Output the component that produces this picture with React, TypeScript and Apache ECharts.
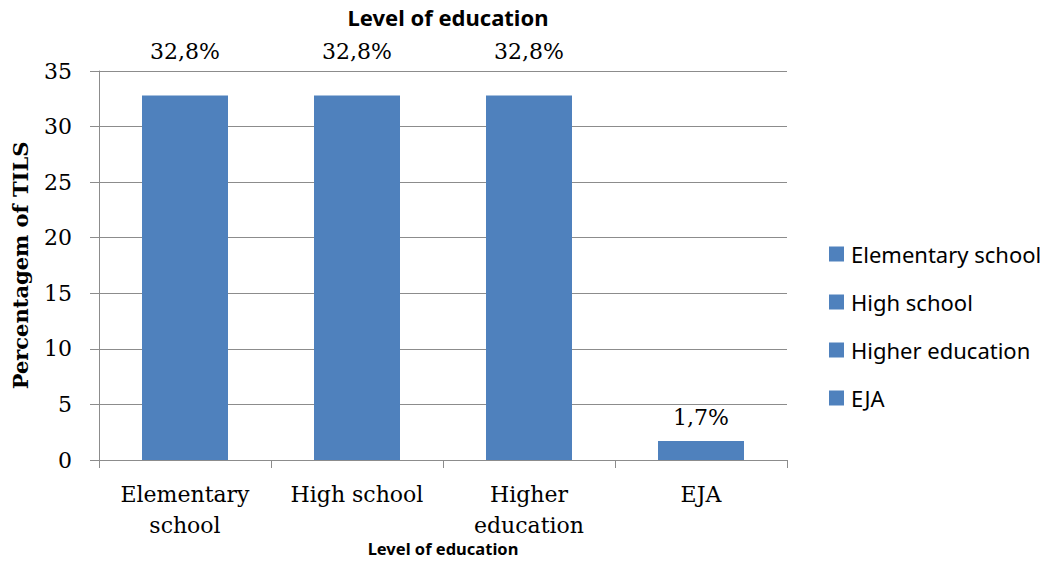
import React, { useEffect, useRef } from "react";
import * as echarts from "echarts";

const categories = ["Elementary school", "High school", "Higher education", "EJA"];
const axisLabels = ["Elementary\nschool", "High school", "Higher\neducation", "EJA"];
const values = [32.8, 32.8, 32.8, 1.7];
const yTicks = { min: 0, max: 35, interval: 5 };

const BAR_COLOR = "#4F81BD";
const GRID_COLOR = "#8C8C8C";
const SERIF = "'DejaVu Serif', serif";
const SANS = "'Noto Sans', sans-serif";

export default function App() {
  const ref = useRef<HTMLDivElement>(null);
  useEffect(() => {
    if (!ref.current) return;
    const chart = echarts.init(ref.current, null, { renderer: "svg" });
    const series = categories.map((name, i) => ({
      name,
      type: "bar",
      stack: "all",
      barWidth: "50%",
      itemStyle: { color: BAR_COLOR },
      data: categories.map((_, j) => (j === i ? values[i] : "-")),
      label: {
        show: true,
        position: "top",
        distance: values[i] > 30 ? 33 : 13,
        fontFamily: SERIF,
        fontSize: 22,
        color: "#000",
        formatter: (p: any) => String(p.value).replace(".", ",") + "%",
      },
    }));
    chart.setOption({
      animation: false,
      backgroundColor: "#fff",
      title: {
        text: "Level of education",
        left: 443,
        textAlign: "center",
        top: 1,
        textStyle: { fontFamily: SANS, fontWeight: "bold", fontSize: 22, color: "#000" },
      },
      legend: {
        orient: "vertical",
        left: 829,
        top: 243,
        padding: 0,
        itemWidth: 15,
        itemHeight: 15,
        itemGap: 26,
        icon: "rect",
        data: categories,
        textStyle: { fontFamily: SANS, fontSize: 22, color: "#000", lineHeight: 22, padding: [0, 0, 0, 2] },
      },
      grid: { left: 99, right: 267, top: 71, bottom: 115, containLabel: false },
      xAxis: {
        type: "category",
        data: axisLabels,
        name: "Level of education",
        nameLocation: "middle",
        nameGap: 80,
        nameMoveOverlap: false,
        nameTextStyle: { fontFamily: SANS, fontWeight: "bold", fontSize: 16.5, color: "#000" },
        axisLine: { lineStyle: { color: GRID_COLOR, width: 1 } },
        axisTick: { show: true, length: 8, interval: 0, lineStyle: { color: GRID_COLOR } },
        axisLabel: {
          interval: 0,
          margin: 19,
          fontFamily: SERIF,
          fontSize: 22,
          lineHeight: 31,
          color: "#000",
        },
      },
      yAxis: {
        type: "value",
        min: yTicks.min,
        max: yTicks.max,
        interval: yTicks.interval,
        name: "Percentagem of TILS",
        nameLocation: "middle",
        nameGap: 68,
        nameMoveOverlap: false,
        nameTextStyle: { fontFamily: SERIF, fontWeight: "bold", fontSize: 21, color: "#000" },
        axisLine: { show: true, lineStyle: { color: GRID_COLOR, width: 1 } },
        axisTick: { show: true, length: 9, lineStyle: { color: GRID_COLOR } },
        axisLabel: { margin: 27, fontFamily: SERIF, fontSize: 22, color: "#000" },
        splitLine: { show: true, lineStyle: { color: GRID_COLOR, width: 1 } },
      },
      series,
    });
    return () => chart.dispose();
  }, []);
  return <div ref={ref} style={{ width: 1054, height: 575, position: "absolute", left: 0, top: 0 }} />;
}
